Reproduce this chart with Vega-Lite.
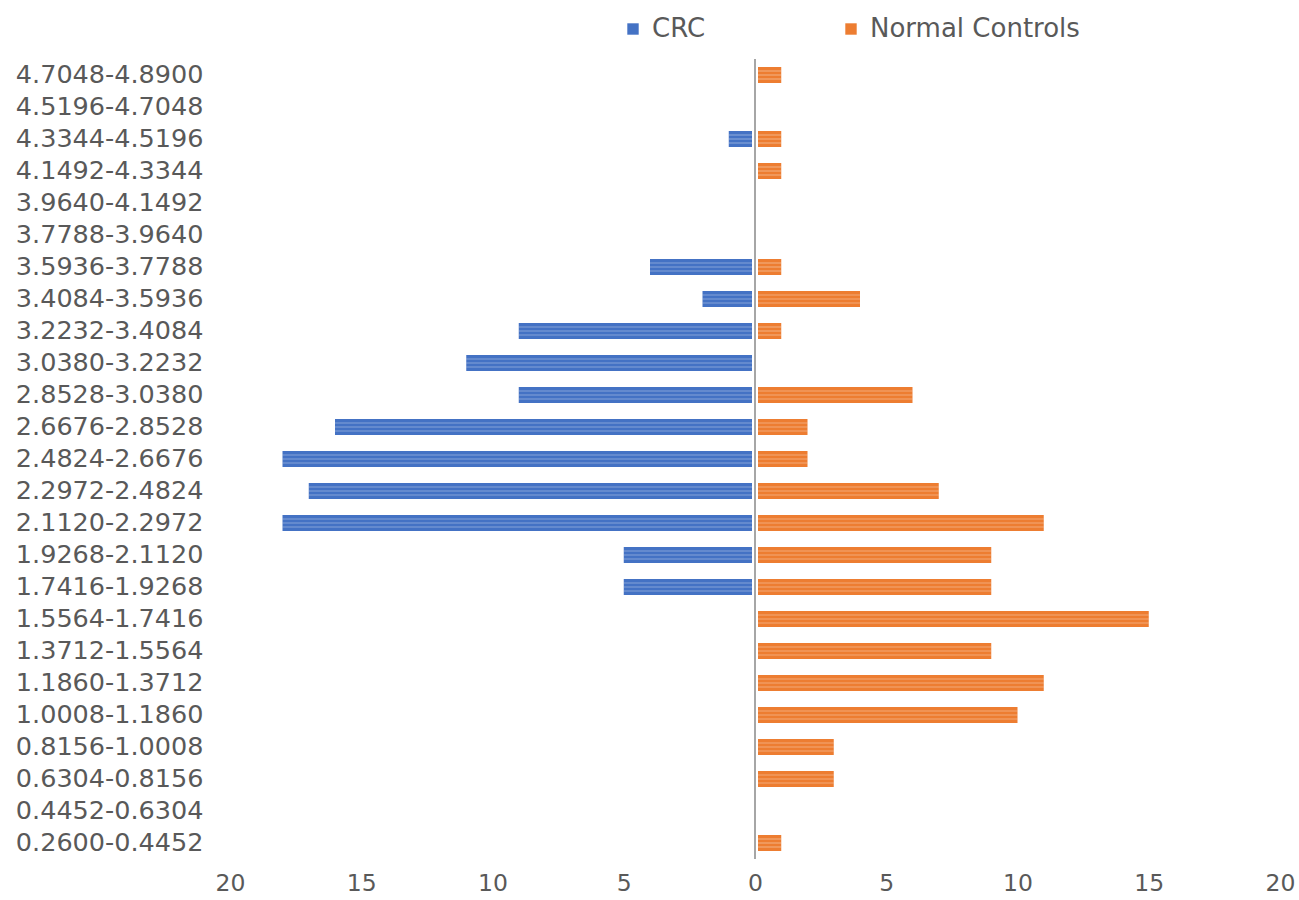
{
  "$schema": "https://vega.github.io/schema/vega-lite/v6.json",
  "width": 1050,
  "height": 800,
  "autosize": {"type": "none"},
  "padding": {"left": 230, "top": 59, "right": 19, "bottom": 41},
  "background": "white",
  "config": {
    "view": {"stroke": null},
    "font": "DejaVu Sans"
  },
  "data": {
    "values": [
      {"range": "4.7048-4.8900", "series": "CRC", "value": 0},
      {"range": "4.5196-4.7048", "series": "CRC", "value": 0},
      {"range": "4.3344-4.5196", "series": "CRC", "value": -1},
      {"range": "4.1492-4.3344", "series": "CRC", "value": 0},
      {"range": "3.9640-4.1492", "series": "CRC", "value": 0},
      {"range": "3.7788-3.9640", "series": "CRC", "value": 0},
      {"range": "3.5936-3.7788", "series": "CRC", "value": -4},
      {"range": "3.4084-3.5936", "series": "CRC", "value": -2},
      {"range": "3.2232-3.4084", "series": "CRC", "value": -9},
      {"range": "3.0380-3.2232", "series": "CRC", "value": -11},
      {"range": "2.8528-3.0380", "series": "CRC", "value": -9},
      {"range": "2.6676-2.8528", "series": "CRC", "value": -16},
      {"range": "2.4824-2.6676", "series": "CRC", "value": -18},
      {"range": "2.2972-2.4824", "series": "CRC", "value": -17},
      {"range": "2.1120-2.2972", "series": "CRC", "value": -18},
      {"range": "1.9268-2.1120", "series": "CRC", "value": -5},
      {"range": "1.7416-1.9268", "series": "CRC", "value": -5},
      {"range": "1.5564-1.7416", "series": "CRC", "value": 0},
      {"range": "1.3712-1.5564", "series": "CRC", "value": 0},
      {"range": "1.1860-1.3712", "series": "CRC", "value": 0},
      {"range": "1.0008-1.1860", "series": "CRC", "value": 0},
      {"range": "0.8156-1.0008", "series": "CRC", "value": 0},
      {"range": "0.6304-0.8156", "series": "CRC", "value": 0},
      {"range": "0.4452-0.6304", "series": "CRC", "value": 0},
      {"range": "0.2600-0.4452", "series": "CRC", "value": 0},
      {"range": "4.7048-4.8900", "series": "Normal Controls", "value": 1},
      {"range": "4.5196-4.7048", "series": "Normal Controls", "value": 0},
      {"range": "4.3344-4.5196", "series": "Normal Controls", "value": 1},
      {"range": "4.1492-4.3344", "series": "Normal Controls", "value": 1},
      {"range": "3.9640-4.1492", "series": "Normal Controls", "value": 0},
      {"range": "3.7788-3.9640", "series": "Normal Controls", "value": 0},
      {"range": "3.5936-3.7788", "series": "Normal Controls", "value": 1},
      {"range": "3.4084-3.5936", "series": "Normal Controls", "value": 4},
      {"range": "3.2232-3.4084", "series": "Normal Controls", "value": 1},
      {"range": "3.0380-3.2232", "series": "Normal Controls", "value": 0},
      {"range": "2.8528-3.0380", "series": "Normal Controls", "value": 6},
      {"range": "2.6676-2.8528", "series": "Normal Controls", "value": 2},
      {"range": "2.4824-2.6676", "series": "Normal Controls", "value": 2},
      {"range": "2.2972-2.4824", "series": "Normal Controls", "value": 7},
      {"range": "2.1120-2.2972", "series": "Normal Controls", "value": 11},
      {"range": "1.9268-2.1120", "series": "Normal Controls", "value": 9},
      {"range": "1.7416-1.9268", "series": "Normal Controls", "value": 9},
      {"range": "1.5564-1.7416", "series": "Normal Controls", "value": 15},
      {"range": "1.3712-1.5564", "series": "Normal Controls", "value": 9},
      {"range": "1.1860-1.3712", "series": "Normal Controls", "value": 11},
      {"range": "1.0008-1.1860", "series": "Normal Controls", "value": 10},
      {"range": "0.8156-1.0008", "series": "Normal Controls", "value": 3},
      {"range": "0.6304-0.8156", "series": "Normal Controls", "value": 3},
      {"range": "0.4452-0.6304", "series": "Normal Controls", "value": 0},
      {"range": "0.2600-0.4452", "series": "Normal Controls", "value": 1}
    ]
  },
  "layer": [
    {
      "mark": {"type": "bar"},
      "encoding": {
        "y": {
          "field": "range",
          "type": "nominal",
          "sort": "descending",
          "scale": {"paddingInner": 0.5, "paddingOuter": 0.25},
          "axis": {
            "title": null,
            "domain": false,
            "ticks": false,
            "labelFontSize": 25.5,
            "labelColor": "#595959",
            "labelPadding": 27,
            "labelLimit": 400
          }
        },
        "x": {
          "field": "value",
          "type": "quantitative",
          "scale": {"domain": [-20, 20], "nice": false},
          "axis": {
            "title": null,
            "values": [-20, -15, -10, -5, 0, 5, 10, 15, 20],
            "labelExpr": "abs(datum.value)",
            "labelFlush": false,
            "domain": false,
            "ticks": false,
            "grid": false,
            "labelFontSize": 23.5,
            "labelColor": "#595959",
            "labelPadding": 12
          }
        },
        "x2": {"datum": 0},
        "color": {
          "field": "series",
          "type": "nominal",
          "scale": {"domain": ["CRC", "Normal Controls"], "range": ["#4472C4", "#ED7D31"]},
          "legend": {
            "title": null,
            "orient": "none",
            "direction": "horizontal",
            "legendX": 390,
            "legendY": -43,
            "symbolType": "square",
            "symbolSize": 130,
            "symbolStrokeWidth": 0,
            "labelFontSize": 26,
            "labelColor": "#595959",
            "labelOffset": 6,
            "labelLimit": 400,
            "columnPadding": 132
          }
        }
      }
    },
    {
      "mark": {"type": "bar", "height": 1.2, "yOffset": -4, "color": "white", "opacity": 0.35},
      "encoding": {
        "y": {"field": "range", "type": "nominal", "sort": "descending"},
        "x": {"field": "value", "type": "quantitative"},
        "x2": {"datum": 0}
      }
    },
    {
      "mark": {"type": "bar", "height": 1.2, "yOffset": 0, "color": "white", "opacity": 0.35},
      "encoding": {
        "y": {"field": "range", "type": "nominal", "sort": "descending"},
        "x": {"field": "value", "type": "quantitative"},
        "x2": {"datum": 0}
      }
    },
    {
      "mark": {"type": "bar", "height": 1.2, "yOffset": 4, "color": "white", "opacity": 0.35},
      "encoding": {
        "y": {"field": "range", "type": "nominal", "sort": "descending"},
        "x": {"field": "value", "type": "quantitative"},
        "x2": {"datum": 0}
      }
    },
    {
      "transform": [{"filter": "datum.range == '0.2600-0.4452' && datum.series == 'CRC'"}],
      "mark": {"type": "rule", "color": "white", "strokeWidth": 6},
      "encoding": {"x": {"datum": 0}}
    },
    {
      "transform": [{"filter": "datum.range == '0.2600-0.4452' && datum.series == 'CRC'"}],
      "mark": {"type": "rule", "color": "#A6A6A6", "strokeWidth": 2},
      "encoding": {"x": {"datum": 0}}
    }
  ]
}
